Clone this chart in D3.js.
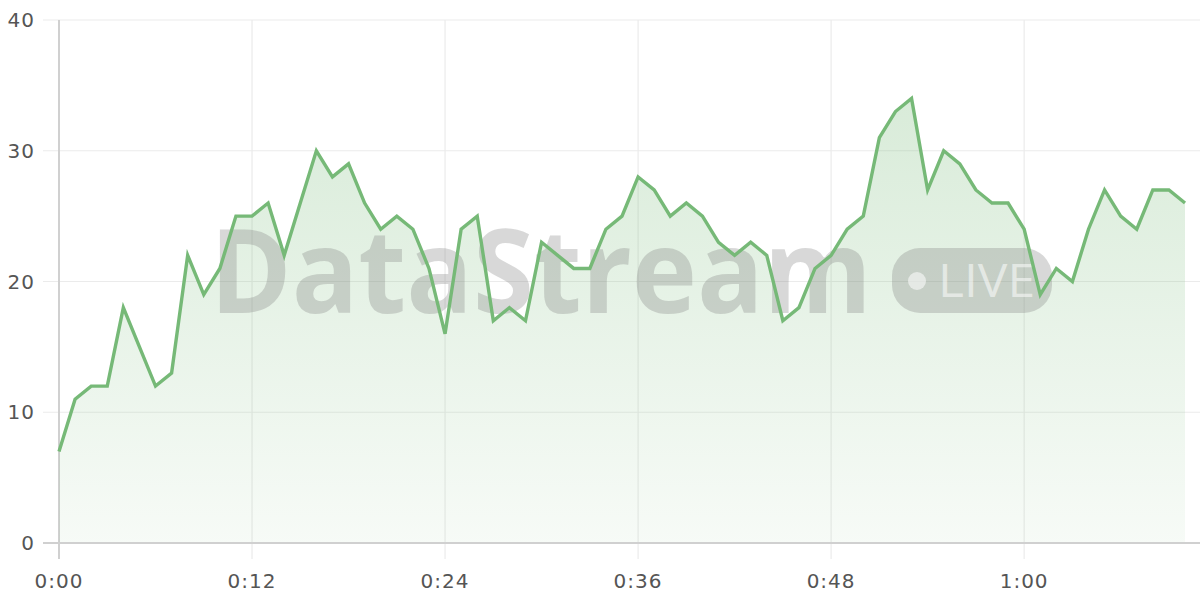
<!DOCTYPE html>
<html><head><meta charset="utf-8">
<script src="https://cdn.jsdelivr.net/npm/d3@7"></script>
<style>html,body{margin:0;padding:0;background:#fff;}svg{display:block;}</style>
</head><body>
<svg id="chart" width="1200" height="600"></svg>
<script>
const seconds = d3.range(0, 71);
const values = [7,11,12,12,18,15,12,13,22,19,21,25,25,26,22,26,30,28,29,26,24,25,24,21,16,24,25,17,18,17,23,22,21,21,24,25,28,27,25,26,25,23,22,23,22,17,18,21,22,24,25,31,33,34,27,30,29,27,26,26,24,19,21,20,24,27,25,24,27,27,26];
const xTicks = [0,12,24,36,48,60];
const yTicks = [0,10,20,30,40];
const watermarkText = "DataStream";
const badgeText = "LIVE";

const svg = d3.select("#chart");
const W = 1200, H = 600;
const m = {left:59, right:15, top:20, bottom:57};
const x = d3.scaleLinear().domain([0,70]).range([m.left, W - m.right]);
const y = d3.scaleLinear().domain([0,40]).range([H - m.bottom, m.top]);
const fmt = s => Math.floor(s/60) + ":" + String(s%60).padStart(2,"0");
const font = "'Open Sans', 'DejaVu Sans', sans-serif";
const axisFont = "'DejaVu Sans', sans-serif";

const defs = svg.append("defs");
const grad = defs.append("linearGradient").attr("id","g").attr("gradientUnits","userSpaceOnUse")
  .attr("x1",0).attr("x2",0).attr("y1",y(40)).attr("y2",y(0));
grad.append("stop").attr("offset","0%").attr("stop-color","#76b977").attr("stop-opacity",0.32);
grad.append("stop").attr("offset","100%").attr("stop-color","#76b977").attr("stop-opacity",0.06);

// grid
svg.append("g").selectAll("line").data(yTicks).join("line")
  .attr("x1", m.left - 16).attr("x2", W).attr("y1", d=>y(d)).attr("y2", d=>y(d))
  .attr("stroke", d => d===0 ? "#d0d0d0" : "#ebebeb").attr("stroke-width", d=> d===0?2:1.2);
svg.append("g").selectAll("line").data(xTicks).join("line")
  .attr("x1", d=>x(d)).attr("x2", d=>x(d)).attr("y1", y(40)).attr("y2", y(0) + 16)
  .attr("stroke", d => d===0 ? "#d0d0d0" : "#ebebeb").attr("stroke-width", d=> d===0?2:1.2);

// area
const data = seconds.map((s,i)=>({s, v: values[i]}));
svg.append("path").datum(data)
  .attr("d", d3.area().x(d=>x(d.s)).y0(y(0)).y1(d=>y(d.v)))
  .attr("fill","url(#g)");

// redraw baseline over area
svg.append("line").attr("x1", m.left-16).attr("x2", W).attr("y1", y(0)).attr("y2", y(0))
  .attr("stroke","#d0d0d0").attr("stroke-width",2);

// watermark
const wm = svg.append("g");
wm.append("text").text(watermarkText)
  .attr("x", 210).attr("y", 313)
  .attr("font-family", font).attr("font-weight", 700).attr("font-size", 116)
  .attr("textLength", 662).attr("lengthAdjust","spacingAndGlyphs")
  .attr("fill", "#7f7f7f").attr("fill-opacity", 0.3);
wm.append("rect").attr("x", 892).attr("y", 248).attr("width", 160).attr("height", 65)
  .attr("rx", 28).attr("fill","#7f7f7f").attr("fill-opacity",0.3);
wm.append("circle").attr("cx", 917).attr("cy", 281).attr("r", 9)
  .attr("fill","#ffffff").attr("fill-opacity",0.55);
wm.append("text").text(badgeText)
  .attr("x", 938).attr("y", 297)
  .attr("font-family", font).attr("font-weight", 400).attr("font-size", 46)
  .attr("textLength", 97).attr("lengthAdjust","spacingAndGlyphs")
  .attr("fill","#ffffff").attr("fill-opacity",0.55);

// line
svg.append("path").datum(data)
  .attr("d", d3.line().x(d=>x(d.s)).y(d=>y(d.v)))
  .attr("fill","none").attr("stroke","#76b977").attr("stroke-width",3.4)
  .attr("stroke-linejoin","miter");

// axis labels
svg.append("g").selectAll("text").data(yTicks).join("text")
  .attr("x", 35).attr("y", d=>y(d)).attr("dy","0.36em").attr("text-anchor","end")
  .attr("font-family", axisFont).attr("font-size", 20).attr("letter-spacing", 1).attr("fill","#555")
  .text(d=>d);
svg.append("g").selectAll("text").data(xTicks).join("text")
  .attr("x", d=>x(d)).attr("y", 581).attr("dy","0.36em").attr("text-anchor","middle")
  .attr("font-family", axisFont).attr("font-size", 20).attr("letter-spacing", 1).attr("fill","#555")
  .text(d=>fmt(d));
</script>
</body></html>
